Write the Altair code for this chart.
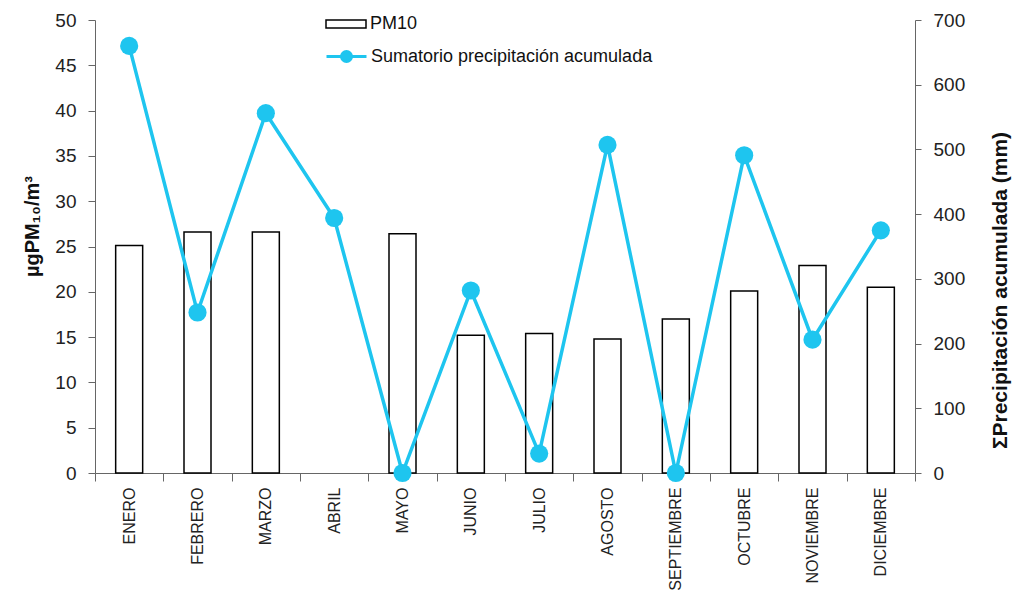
import altair as alt
import pandas as pd

meses = ["ENERO", "FEBRERO", "MARZO", "ABRIL", "MAYO", "JUNIO", "JULIO",
         "AGOSTO", "SEPTIEMBRE", "OCTUBRE", "NOVIEMBRE", "DICIEMBRE"]
pm10 = [25.1, 26.6, 26.6, None, 26.4, 15.2, 15.4, 14.8, 17.0, 20.1, 22.9, 20.5]
precip = [660, 248, 556, 394, 0, 282, 30, 507, 0, 491, 206, 375]

SERIE_BAR = "PM10"
SERIE_LINE = "Sumatorio precipitación acumulada"
CYAN = "#1ec5ef"
FONT = "Liberation Sans"

df = pd.DataFrame({
    "mes": meses,
    "pm10": pm10,
    "precip": precip,
    "s1": [SERIE_BAR] * len(meses),
    "s2": [SERIE_LINE] * len(meses),
})

x_enc = alt.X("mes:N", sort=meses, title=None,
              scale=alt.Scale(paddingInner=0, paddingOuter=0),
              axis=alt.Axis(tickBand="extent", labelAngle=-90, labelAlign="right",
                            labelBaseline="middle", labelPadding=6, tickSize=8,
                            labelFontSize=16, labelColor="#222", domainColor="#666",
                            tickColor="#666", labelFont=FONT))

bars = alt.Chart(df).mark_bar(size=27, stroke="black", strokeWidth=1.5).encode(
    x=x_enc,
    y=alt.Y("pm10:Q", scale=alt.Scale(domain=[0, 50]),
            axis=alt.Axis(title="µgPM₁₀/m³", values=list(range(0, 51, 5)),
                          orient="left", grid=False, tickSize=7, labelPadding=12,
                          labelFontSize=19, labelColor="#222", labelFont=FONT,
                          domainColor="#666", tickColor="#666",
                          titleFont=FONT, titleFontSize=20, titleFontWeight="bold",
                          titleColor="#111", titleAngle=270, titlePadding=12,
                          titleY=206)),
    fill=alt.Fill("s1:N", scale=alt.Scale(domain=[SERIE_BAR], range=["white"]),
                  legend=alt.Legend(title=None, orient="none", legendX=230, legendY=-17,
                                    symbolType="M-1,-0.2H1V0.2H-1Z", symbolSize=1600,
                                    symbolStrokeColor="black", symbolStrokeWidth=1.5,
                                    labelFontSize=18, labelFont=FONT, labelColor="#111",
                                    labelOffset=3, labelLimit=0, padding=0)),
)

line = alt.Chart(df).mark_line(strokeWidth=3.5,
                               point=alt.OverlayMarkDef(size=330, filled=True, opacity=1)).encode(
    x=alt.X("mes:N", sort=meses),
    y=alt.Y("precip:Q", scale=alt.Scale(domain=[0, 700]),
            axis=alt.Axis(title="ΣPrecipitación acumulada (mm)", values=list(range(0, 701, 100)),
                          orient="right", grid=False, tickSize=6, labelPadding=12,
                          labelFontSize=19, labelColor="#222", labelFont=FONT,
                          domainColor="#666", tickColor="#666",
                          titleFont=FONT, titleFontSize=21, titleFontWeight="bold",
                          titleColor="#111", titleAngle=270, titlePadding=46,
                          titleY=270)),
    color=alt.Color("s2:N", scale=alt.Scale(domain=[SERIE_LINE], range=[CYAN]),
                    legend=alt.Legend(title=None, orient="none", legendX=230, legendY=15,
                                      symbolType="M-1,0H1M-0.25,0A0.25,0.25 0 1,1 0.25,0A0.25,0.25 0 1,1 -0.25,0Z",
                                      symbolSize=1600, symbolFillColor=CYAN,
                                      symbolStrokeWidth=3, labelFontSize=18, labelFont=FONT,
                                      labelColor="#111", labelOffset=3, labelLimit=0,
                                      padding=0)),
)

chart = alt.layer(bars, line).resolve_scale(y="independent").properties(
    width=820, height=453,
    autosize=alt.AutoSizeParams(type="none"),
    padding={"left": 87, "top": 12, "right": 100, "bottom": 130},
).configure_view(stroke=None)

chart.save("out.html", embed_options={"renderer": "svg", "actions": False})
